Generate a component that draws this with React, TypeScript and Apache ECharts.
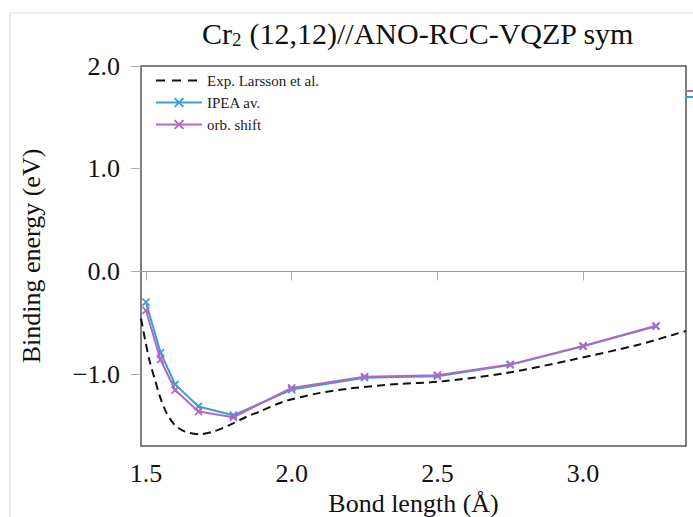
import React, { useEffect, useRef } from "react";
import * as echarts from "echarts";

const TITLE_MAIN = "Cr";
const TITLE_SUB = "2";
const TITLE_REST = " (12,12)//ANO-RCC-VQZP sym";
const X_NAME = "Bond length (Å)";
const Y_NAME = "Binding energy (eV)";
const X_TICKS = [1.5, 2.0, 2.5, 3.0];
const Y_TICKS = [-1, 0, 1, 2];

const SERIES_NAMES = ["Exp. Larsson et al.", "IPEA av.", "orb. shift"];

const bondLengths = [1.5, 1.55, 1.6, 1.68, 1.8, 2.0, 2.25, 2.5, 2.75, 3.0, 3.25];
const ipeaAv = [-0.3, -0.79, -1.1, -1.315, -1.4, -1.15, -1.035, -1.02, -0.91, -0.73, -0.535];
const orbShift = [-0.38, -0.86, -1.155, -1.365, -1.42, -1.135, -1.025, -1.01, -0.905, -0.725, -0.53];

const expX = [1.483, 1.486, 1.497, 1.514, 1.531, 1.548, 1.571, 1.599, 1.634, 1.685, 1.73, 1.788, 1.845, 1.89, 1.97, 2.085, 2.2, 2.37, 2.5, 2.735, 2.963, 3.19, 3.31, 3.353];
const expY = [-0.46, -0.5, -0.665, -0.89, -1.055, -1.22, -1.38, -1.495, -1.56, -1.585, -1.56, -1.495, -1.415, -1.365, -1.27, -1.19, -1.14, -1.095, -1.075, -0.99, -0.86, -0.714, -0.616, -0.58];

const X_MIN = 1.483;
const X_MAX = 3.353;
const Y_MIN = -1.7;
const Y_MAX = 2.0;

const BLUE = "#3a9fd3";
const PINK = "#b366c3";
const FONT = "'Liberation Serif', serif";
const CROSS = "path://M0,0L10,10M0,10L10,0";

export default function App() {
  const ref = useRef<HTMLDivElement>(null);
  useEffect(() => {
    if (!ref.current) return;
    const chart = echarts.init(ref.current, null, { renderer: "svg" });
    const fmt = (v: number) => (v < 0 ? "\u2212" + Math.abs(v).toFixed(1) : v.toFixed(1));
    const legendText = {
      fontFamily: FONT,
      fontSize: 15,
      color: "#222",
      rich: { t: { fontFamily: FONT, fontSize: 15, color: "#222" } },
    };
    chart.setOption({
      animation: false,
      backgroundColor: "#fff",
      textStyle: { fontFamily: FONT },
      title: {
        text: `{a|${TITLE_MAIN}}{b|${TITLE_SUB}}{a|${TITLE_REST}}`,
        left: 413,
        top: 12,
        textAlign: "center",
        textStyle: {
          fontWeight: "normal",
          rich: {
            a: { fontFamily: FONT, fontSize: 30, fontWeight: "normal", color: "#111", lineHeight: 32, verticalAlign: "middle" },
            b: { fontFamily: FONT, fontSize: 19, fontWeight: "normal", color: "#111", lineHeight: 32, verticalAlign: "bottom" },
          },
        },
      },
      legend: {
        orient: "vertical",
        left: 150,
        top: 68,
        itemWidth: 46,
        itemHeight: 11,
        itemGap: 7,
        formatter: (name: string) => `{t|${name}}`,
        data: [
          { name: SERIES_NAMES[0], itemStyle: { opacity: 0 }, lineStyle: { type: [9, 7], width: 2 } },
          { name: SERIES_NAMES[1] },
          { name: SERIES_NAMES[2] },
        ],
        textStyle: legendText,
      },
      grid: { left: 141, right: 7, top: 66, bottom: 71, containLabel: false, outerBoundsMode: "none", show: true, borderColor: "#555", borderWidth: 1.5 },
      xAxis: {
        type: "value",
        min: X_MIN,
        max: X_MAX,
        name: X_NAME,
        nameLocation: "middle",
        nameGap: 40,
        nameTextStyle: { fontFamily: FONT, fontSize: 26, color: "#111" },
        axisLine: { show: false },
        axisTick: { show: true, customValues: X_TICKS, length: 9, lineStyle: { color: "#aaa" } },
        axisLabel: { customValues: X_TICKS, formatter: fmt, margin: 14, fontFamily: FONT, fontSize: 26, color: "#111" },
        splitLine: { show: false },
      },
      yAxis: {
        type: "value",
        min: Y_MIN,
        max: Y_MAX,
        name: Y_NAME,
        nameLocation: "middle",
        nameGap: 97,
        nameTextStyle: { fontFamily: FONT, fontSize: 26, color: "#111" },
        axisLine: { show: false },
        axisTick: { show: true, customValues: Y_TICKS, length: 10, lineStyle: { color: "#aaa" } },
        axisLabel: { customValues: Y_TICKS, formatter: fmt, margin: 21, fontFamily: FONT, fontSize: 26, color: "#111" },
        splitLine: { show: false },
      },
      series: [
        {
          name: SERIES_NAMES[0],
          type: "line",
          data: expX.map((x, i) => [x, expY[i]]),
          smooth: 0.3,
          symbol: "none",
          lineStyle: { color: "#111", width: 2, type: [8, 5] },
          itemStyle: { color: "#111" },
          markLine: {
            silent: true,
            symbol: ["none", "none"],
            label: { show: false },
            lineStyle: { color: "#999", width: 1, type: "solid" },
            data: [{ yAxis: 0 }],
          },
          z: 2,
        },
        {
          name: SERIES_NAMES[1],
          type: "line",
          data: bondLengths.map((x, i) => [x, ipeaAv[i]]),
          symbol: CROSS,
          symbolSize: 7,
          lineStyle: { color: BLUE, width: 2 },
          itemStyle: { color: BLUE, borderColor: BLUE, borderWidth: 1.8 },
          z: 3,
        },
        {
          name: SERIES_NAMES[2],
          type: "line",
          data: bondLengths.map((x, i) => [x, orbShift[i]]),
          symbol: CROSS,
          symbolSize: 7,
          lineStyle: { color: PINK, width: 2 },
          itemStyle: { color: PINK, borderColor: PINK, borderWidth: 1.8 },
          z: 4,
        },
      ],
      graphic: [
        { type: "rect", x: 10, y: 13, shape: { width: 700, height: 520 }, style: { fill: "none", stroke: "#ddd", lineWidth: 1 }, silent: true },
        { type: "line", shape: { x1: 686, y1: 91, x2: 693, y2: 91 }, style: { stroke: PINK, lineWidth: 2 } },
        { type: "line", shape: { x1: 686, y1: 97, x2: 693, y2: 97 }, style: { stroke: BLUE, lineWidth: 2 } },
      ],
    });
    return () => chart.dispose();
  }, []);
  return <div ref={ref} style={{ width: 693, height: 517, position: "absolute", left: 0, top: 0 }} />;
}
